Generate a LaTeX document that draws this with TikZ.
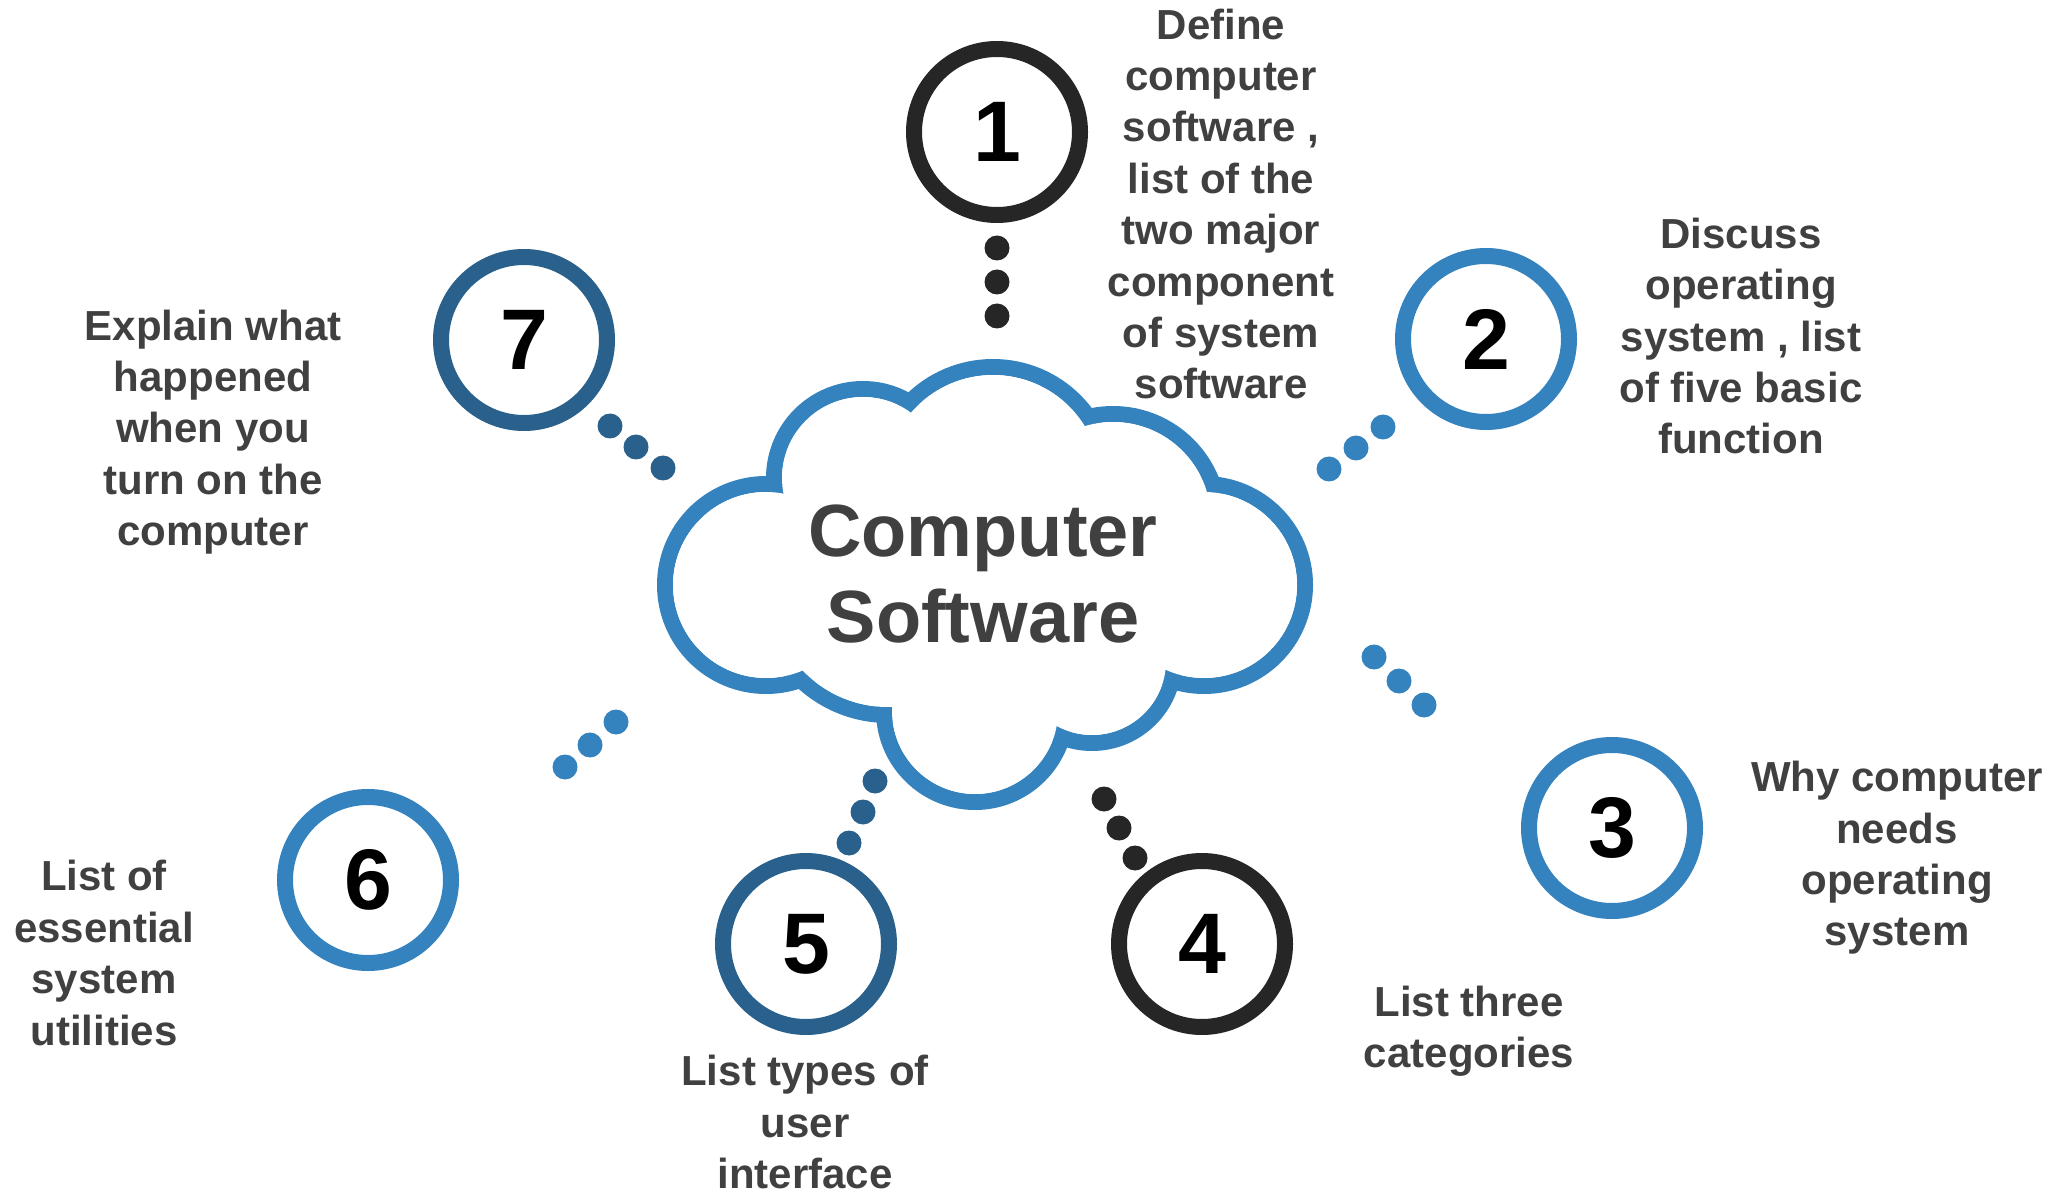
\documentclass[tikz,border=0pt]{standalone}
\usepackage{fontspec}
\setmainfont{Liberation Sans}
\usepackage{xcolor}
\usetikzlibrary{shapes.geometric, positioning}
\definecolor{cloudblue}{RGB}{52, 131, 190}
\definecolor{deepblue}{RGB}{41, 97, 140}
\definecolor{inkdark}{RGB}{38, 38, 38}
\definecolor{textgray}{RGB}{64, 64, 64}
\tikzstyle{numring} = [circle, minimum size=83pt, inner sep=0pt, line width=8pt, text=black, font=\bfseries\fontsize{43pt}{43pt}\selectfont]
\tikzstyle{topic} = [align=center, inner sep=0pt, text=textgray, font=\bfseries\fontsize{21pt}{25.7pt}\selectfont]
\tikzstyle{hubtext} = [align=center, inner sep=0pt, text=textgray, font=\bfseries\fontsize{37pt}{42.8pt}\selectfont]

\begin{document}
\begin{tikzpicture}[x=0.5pt, y=0.5pt]

\useasboundingbox (0,0) rectangle (2066,1196);

% Cloud
\foreach \x/\y/\r in {766/611/101, 863/718/89, 993/713/116, 1113/676/106, 1204/611/101, 1092/535/82, 975/485/91, 888/607/126}
  \draw [cloudblue, line width=8pt] (\x,\y) circle (\r);
\foreach \x/\y/\r in {766/611/101, 863/718/89, 993/713/116, 1113/676/106, 1204/611/101, 1092/535/82, 975/485/91, 888/607/126}
  \fill [white] (\x,\y) circle ({\r-8});
\fill [white] (985,611) ellipse (200 and 110);
\node (hub) [hubtext] at (983,622) {Computer\\Software};

% Numbered rings
\node (n1) [numring, draw=inkdark] at (997,1064) {1};
\node (n2) [numring, draw=cloudblue] at (1486,857) {2};
\node (n3) [numring, draw=cloudblue] at (1612,368) {3};
\node (n4) [numring, draw=inkdark] at (1202,252) {4};
\node (n5) [numring, draw=deepblue] at (806,252) {5};
\node (n6) [numring, draw=cloudblue] at (368,316) {6};
\node (n7) [numring, draw=deepblue] at (524,856) {7};

% Dots
\foreach \x/\y/\c in {997/948/inkdark, 997/914/inkdark, 997/880/inkdark,
                      1329/727/cloudblue, 1356/748/cloudblue, 1383/769/cloudblue,
                      1374/539/cloudblue, 1399/515/cloudblue, 1424/491/cloudblue,
                      1104/397/inkdark, 1119/368/inkdark, 1135/338/inkdark,
                      875/415/deepblue, 863/384/deepblue, 849/353/deepblue,
                      565/429/cloudblue, 590/451/cloudblue, 616/474/cloudblue,
                      610/770/deepblue, 636/749/deepblue, 663/728/deepblue}
  \fill [\c] (\x,\y) circle (12.5);

% Topics
\node (t1) [topic] at (1221,992) {Define\\computer\\software ,\\list of the\\two major\\component\\of system\\software};
\node (t2) [topic] at (1741,860) {Discuss\\operating\\system , list\\of five basic\\function};
\node (t3) [topic] at (1897,338) {Why computer\\needs\\operating\\system};
\node (t4) [topic] at (1469,165) {List three\\categories};
\node (t5) [topic] at (805,74) {List types of\\user\\interface};
\node (t6) [topic] at (104,243) {List of\\essential\\system\\utilities};
\node (t7) [topic] at (213,764) {Explain what\\happened\\when you\\turn on the\\computer};

\end{tikzpicture}
\end{document}
